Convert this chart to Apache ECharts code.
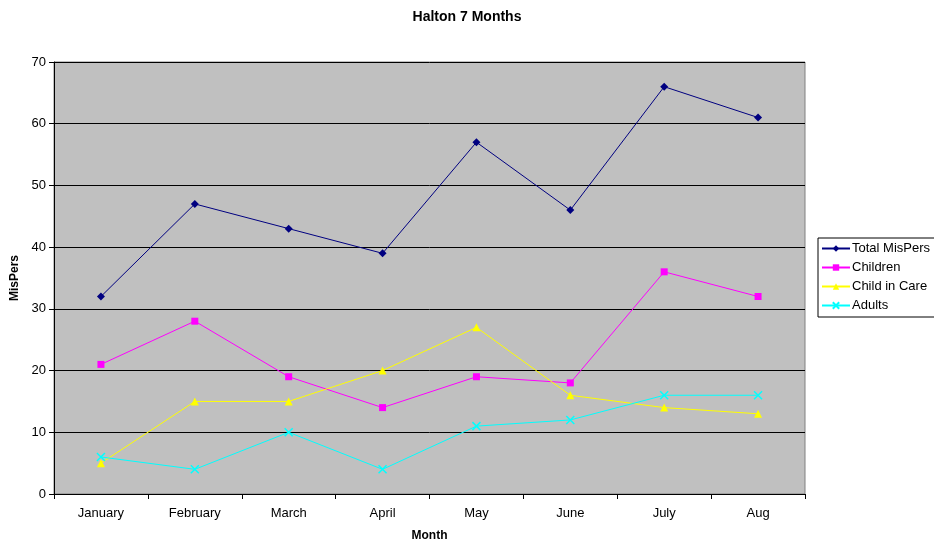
<!DOCTYPE html>
<html><head><meta charset="utf-8">
<script src="https://cdn.jsdelivr.net/npm/echarts@6/dist/echarts.min.js"></script>
<style>html,body{margin:0;padding:0;background:#fff}#c{width:934px;height:542px}</style>
</head><body><div id="c"></div>
<script>
const categories = ["January","February","March","April","May","June","July","Aug"];
const totalMisPers = [32,47,43,39,57,46,66,61];
const children = [21,28,19,14,19,18,36,32];
const childInCare = [5,15,15,20,27,16,14,13];
const adults = [6,4,10,4,11,12,16,16];
const yTicks = [0,10,20,30,40,50,60,70];

const font = "Liberation Sans, Arial, sans-serif";
const chart = echarts.init(document.getElementById('c'), null, {renderer:'canvas'});
function s(name, data, color, symbol, size){
  return {name, type:'line', data, symbol, symbolSize:size, showSymbol:true,
    lineStyle:{color, width:1}, itemStyle:{color, borderWidth:0}, animation:false};
}
chart.setOption({
  animation:false,
  title:{text:'Halton 7 Months', left:'center', top:5,
    textStyle:{fontFamily:font, fontSize:14, fontWeight:'bold', color:'#000'}},
  grid:{left:54, right:129, top:62, bottom:48, outerBoundsMode:'none', containLabel:false, show:true, backgroundColor:'#C0C0C0', borderColor:'#808080', borderWidth:1},
  legend:{orient:'vertical', left:818, top:238, itemWidth:28, itemHeight:8, itemGap:6,
    padding:[4,12,5,3], borderColor:'#000', borderWidth:1, backgroundColor:'#fff',
    textStyle:{fontFamily:font, fontSize:13, color:'#000', padding:[0,0,0,-3]},
    data:['Total MisPers','Children','Child in Care','Adults']},
  xAxis:{type:'category', data:categories, boundaryGap:true,
    name:'Month', nameLocation:'middle', nameGap:36,
    nameTextStyle:{fontFamily:font, fontSize:12, fontWeight:'bold', color:'#000'},
    axisLine:{lineStyle:{color:'#000'}}, axisTick:{show:true, inside:false, length:5, lineStyle:{color:'#000'}},
    axisLabel:{fontFamily:font, fontSize:13, color:'#000', margin:13}},
  yAxis:{type:'value', min:yTicks[0], max:yTicks[yTicks.length-1], interval:10,
    name:'MisPers', nameLocation:'middle', nameGap:32, nameRotate:90,
    nameTextStyle:{fontFamily:font, fontSize:12, fontWeight:'bold', color:'#000'},
    axisLine:{show:true, lineStyle:{color:'#000'}}, axisTick:{show:true, length:5, lineStyle:{color:'#000'}},
    splitLine:{lineStyle:{color:'#000', width:1}},
    axisLabel:{fontFamily:font, fontSize:13, color:'#000', margin:8}},
  series:[
    s('Total MisPers', totalMisPers, '#000080', 'diamond', 8),
    s('Children', children, '#FF00FF', 'rect', 7),
    s('Child in Care', childInCare, '#FFFF00', 'triangle', 8),
    {...s('Adults', adults, '#00FFFF', 'path://M0,0L10,10M10,0L0,10', 8), itemStyle:{color:'#00FFFF', borderColor:'#00FFFF', borderWidth:1.5}}
  ]
});
</script></body></html>
